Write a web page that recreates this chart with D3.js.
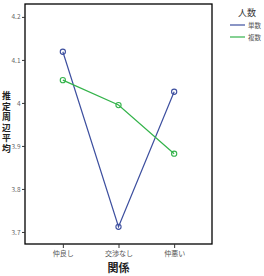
<!DOCTYPE html>
<html>
<head>
<meta charset="utf-8">
<script src="https://cdn.jsdelivr.net/npm/d3@7"></script>
<style>
  body { margin: 0; background: #fff; }
  text { font-family: "Noto Sans CJK JP", "Noto Sans", sans-serif; }
</style>
</head>
<body>
<div id="chart"></div>
<script>
var categories = ["仲良し", "交渉なし", "仲悪い"];
var seriesNames = ["単数", "複数"];
var singleValues = [4.119, 3.712, 4.026];
var multiValues = [4.053, 3.995, 3.882];
var yTicks = [3.7, 3.8, 3.9, 4, 4.1, 4.2];
var colors = ["#3d4f9f", "#33b34a"];

var margin = {top: 4, left: 25},
    width = 187,
    height = 240;

var svg = d3.select("#chart")
  .append("svg")
    .attr("width", 264)
    .attr("height", 276)
  .append("g")
    .attr("transform", "translate(" + margin.left + "," + margin.top + ")");

var x = d3.scalePoint()
  .domain(categories)
  .range([0, width])
  .padding(0.68);

var y = d3.scaleLinear()
  .domain([3.672, 4.23])
  .range([height, 0]);

// frame
svg.append("rect")
  .attr("width", width)
  .attr("height", height)
  .attr("fill", "none")
  .attr("stroke", "#000")
  .attr("stroke-width", 1.3);

// y axis
var yAxis = svg.append("g")
  .call(d3.axisLeft(y).tickValues(yTicks).tickSize(3).tickFormat(d3.format("")));
yAxis.select(".domain").remove();
yAxis.selectAll("line").attr("stroke", "#333");
yAxis.selectAll("text")
  .attr("font-size", 6.5)
  .attr("fill", "#666")
  .attr("x", -4.5);

// x axis
var xAxis = svg.append("g")
  .attr("transform", "translate(0," + height + ")")
  .call(d3.axisBottom(x).tickSize(4));
xAxis.select(".domain").remove();
xAxis.selectAll("line").attr("stroke", "#333");
xAxis.selectAll("text")
  .attr("font-size", 7)
  .attr("fill", "#555")
  .attr("y", 7);

// lines
var series = [singleValues, multiValues];
var line = d3.line()
  .x(function(d, i) { return x(categories[i]); })
  .y(function(d) { return y(d); });

series.forEach(function(vals, s) {
  svg.append("path")
    .datum(vals)
    .attr("fill", "none")
    .attr("stroke", colors[s])
    .attr("stroke-width", 1.2)
    .attr("d", line);
  svg.selectAll(".pt" + s)
    .data(vals)
    .enter()
    .append("circle")
      .attr("cx", function(d, i) { return x(categories[i]); })
      .attr("cy", function(d) { return y(d); })
      .attr("r", 2.6)
      .attr("fill", "none")
      .attr("stroke", colors[s])
      .attr("stroke-width", 1.1);
});

// axis titles
svg.append("text")
  .attr("x", x(categories[1]))
  .attr("y", 268)
  .attr("text-anchor", "middle")
  .attr("font-size", 11)
  .attr("font-weight", "bold")
  .attr("fill", "#222")
  .text("関係");

// vertical y title, one text element
svg.append("text")
  .attr("x", 6.5 - margin.left)
  .attr("y", 91.5 - margin.top)
  .attr("font-size", 8.8)
  .attr("font-weight", "bold")
  .attr("fill", "#222")
  .style("writing-mode", "vertical-rl")
  .style("text-orientation", "upright")
  .style("letter-spacing", "1.7px")
  .text("推定周辺平均");

// legend
var legend = svg.append("g")
  .attr("transform", "translate(" + (230 - margin.left) + "," + (0 - margin.top) + ")");
legend.append("text")
  .attr("x", 17)
  .attr("y", 16)
  .attr("text-anchor", "middle")
  .attr("font-size", 9)
  .attr("fill", "#333")
  .text("人数");
seriesNames.forEach(function(n, i) {
  legend.append("line")
    .attr("x1", 0).attr("x2", 15)
    .attr("y1", 25 + i * 12).attr("y2", 25 + i * 12)
    .attr("stroke", colors[i])
    .attr("stroke-width", 1.2);
  legend.append("text")
    .attr("x", 18)
    .attr("y", 27.5 + i * 12)
    .attr("font-size", 6.5)
    .attr("fill", "#555")
    .text(n);
});
</script>
</body>
</html>
